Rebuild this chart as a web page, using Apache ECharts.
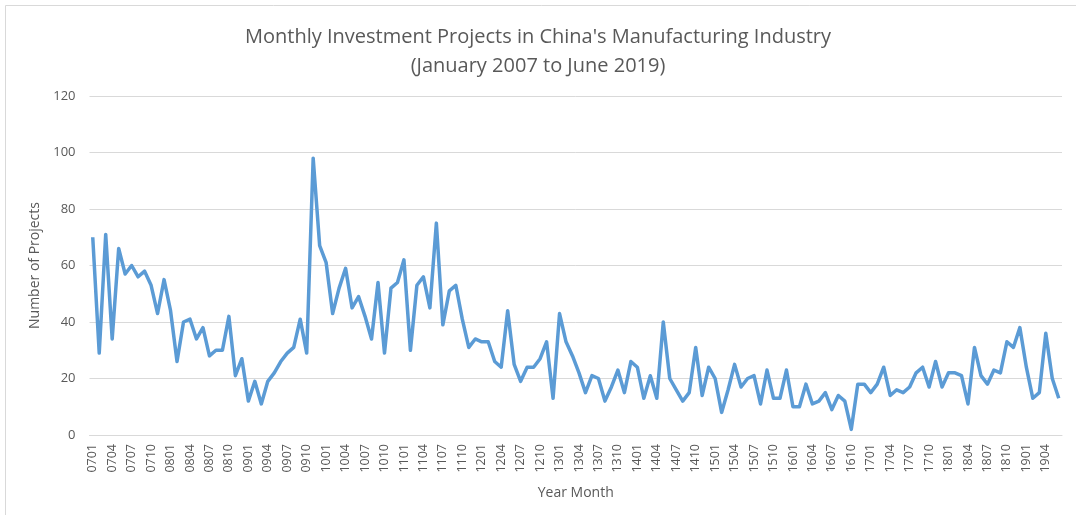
<!DOCTYPE html>
<html>
<head>
<meta charset="utf-8">
<script src="https://cdn.jsdelivr.net/npm/echarts@6/dist/echarts.min.js"></script>
<style>
	html, body { margin: 0; padding: 0; background: #fff; }
	#chart { width: 1076px; height: 515px; }
</style>
</head>
<body>
<div id="chart"></div>
<script>
// Jan 2007 .. Jun 2019, labels like "0701"
var years = [7, 8, 9, 10, 11, 12, 13, 14, 15, 16, 17, 18, 19];
var months = ['01', '02', '03', '04', '05', '06', '07', '08', '09', '10', '11', '12'];
var categories = [];
years.forEach(function(y) {
	months.forEach(function(m, k) {
		if (y === 19 && k > 5) return;
		categories.push((y < 10 ? '0' + y : '' + y) + m);
	});
});

var projects = [
	70, 29, 71, 34, 66, 57, 60, 56, 58, 53, 43, 55,
	44, 26, 40, 41, 34, 38, 28, 30, 30, 42, 21, 27,
	12, 19, 11, 19, 22, 26, 29, 31, 41, 29, 98, 67,
	61, 43, 52, 59, 45, 49, 42, 34, 54, 29, 52, 54,
	62, 30, 53, 56, 45, 75, 39, 51, 53, 41, 31, 34,
	33, 33, 26, 24, 44, 25, 19, 24, 24, 27, 33, 13,
	43, 33, 28, 22, 15, 21, 20, 12, 17, 23, 15, 26,
	24, 13, 21, 13, 40, 20, 16, 12, 15, 31, 14, 24,
	20, 8, 16, 25, 17, 20, 21, 11, 23, 13, 13, 23,
	10, 10, 18, 11, 12, 15, 9, 14, 12, 2, 18, 18,
	15, 18, 24, 14, 16, 15, 17, 22, 24, 17, 26, 17,
	22, 22, 21, 11, 31, 21, 18, 23, 22, 33, 31, 38,
	24, 13, 15, 36, 20, 13
];

var yTicks = [0, 20, 40, 60, 80, 100, 120];

var chart = echarts.init(document.getElementById('chart'));
chart.setOption({
	animation: false,
	backgroundColor: '#fff',
	textStyle: { fontFamily: 'Open Sans' },
	title: {
		text: "Monthly Investment Projects in China's Manufacturing Industry\n(January 2007 to June 2019)",
		left: 'center',
		top: 18,
		textStyle: { fontSize: 20, fontWeight: 'normal', color: '#595959', lineHeight: 29, fontFamily: 'Open Sans' }
	},
	graphic: [{
		type: 'rect',
		shape: { x: 5.5, y: 5.5, width: 1200, height: 800 },
		style: { fill: 'none', stroke: '#d9d9d9', lineWidth: 1 },
		silent: true
	}],
	grid: { left: 89.5, right: 14, top: 96, bottom: 80 },
	xAxis: {
		type: 'category',
		data: categories,
		boundaryGap: true,
		name: 'Year Month',
		nameLocation: 'middle',
		nameGap: 51,
		nameTextStyle: { color: '#595959', fontSize: 14 },
		axisLine: { lineStyle: { color: '#d9d9d9' } },
		axisTick: { show: false },
		axisLabel: { interval: 2, rotate: 90, color: '#595959', fontSize: 12.5, margin: 9 }
	},
	yAxis: {
		type: 'value',
		min: yTicks[0],
		max: yTicks[yTicks.length - 1],
		interval: 20,
		name: 'Number of Projects',
		nameLocation: 'middle',
		nameGap: 45,
		nameTextStyle: { color: '#595959', fontSize: 14 },
		axisLine: { show: false },
		axisTick: { show: false },
		axisLabel: { color: '#595959', fontSize: 13, margin: 14 },
		splitLine: { lineStyle: { color: '#d9d9d9', width: 1 } }
	},
	series: [{
		type: 'line',
		data: projects,
		showSymbol: false,
		lineStyle: { color: '#5b9bd5', width: 3.5, join: 'round' },
		itemStyle: { color: '#5b9bd5' }
	}]
});
</script>
</body>
</html>
